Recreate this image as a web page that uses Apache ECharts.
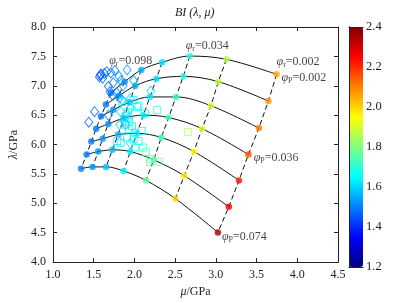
<!DOCTYPE html>
<html><head><meta charset="utf-8">
<script src="https://cdn.jsdelivr.net/npm/echarts@6/dist/echarts.min.js"></script>
<style>html,body{margin:0;padding:0;background:#fff}#c{width:400px;height:303px}</style>
</head><body><div id="c"></div>
<script>
// Grid rows: phi_P from 0.002 (top curve) to 0.074 (bottom curve)
// Grid columns: phi_r from 0.098 (left dashed line) to 0.002 (right dashed line)
const muGrid = [
 [1.71,1.88,2.085,2.34,2.68,3.13,3.746],
 [1.65,1.81,2.01,2.27,2.60,3.03,3.645],
 [1.59,1.74,1.94,2.19,2.51,2.94,3.528],
 [1.53,1.68,1.87,2.11,2.42,2.83,3.40],
 [1.47,1.61,1.80,2.03,2.33,2.73,3.284],
 [1.413,1.555,1.73,1.95,2.236,2.612,3.159],
 [1.344,1.486,1.652,1.867,2.142,2.503,3.025]
];
const lamGrid = [
 [6.88,7.07,7.27,7.40,7.505,7.45,7.195],
 [6.68,6.83,7.00,7.12,7.16,7.07,6.74],
 [6.48,6.59,6.72,6.81,6.81,6.66,6.28],
 [6.27,6.35,6.45,6.50,6.46,6.27,5.83],
 [6.05,6.10,6.17,6.19,6.12,5.88,5.39],
 [5.83,5.88,5.91,5.88,5.74,5.47,4.94],
 [5.59,5.62,5.62,5.55,5.39,5.08,4.505]
];
const biGrid = [
 [1.49,1.52,1.56,1.62,1.70,1.86,2.05],
 [1.49,1.52,1.56,1.62,1.70,1.88,2.07],
 [1.49,1.52,1.56,1.62,1.71,1.90,2.11],
 [1.49,1.52,1.57,1.62,1.72,1.92,2.16],
 [1.49,1.53,1.57,1.63,1.73,1.95,2.22],
 [1.50,1.53,1.57,1.63,1.75,1.97,2.27],
 [1.50,1.53,1.58,1.64,1.77,2.00,2.35]
];
// measured samples: [mu, lambda, BI]
const diamondData = [
 [1.57,7.15,1.46],[1.59,7.20,1.46],[1.61,7.13,1.47],[1.63,7.21,1.47],[1.58,7.18,1.45],
 [1.66,7.24,1.47],[1.71,7.22,1.48],[1.76,7.26,1.50],[1.81,7.16,1.51],[1.91,7.27,1.53],
 [1.835,7.09,1.52],[1.99,7.09,1.55],[1.68,6.99,1.47],[1.70,6.90,1.48],[1.73,6.84,1.49],
 [1.78,6.88,1.50],[1.82,6.80,1.51],[2.20,6.91,1.62],[1.44,6.38,1.46],[1.51,6.56,1.47],
 [1.68,6.50,1.50],[1.83,6.56,1.60],[1.85,6.76,1.58],[1.95,6.78,1.60],[1.95,6.62,1.61],
 [1.82,6.34,1.58],[1.89,6.34,1.60],[1.95,6.02,1.62],[1.93,6.45,1.60],[1.87,6.40,1.59],
 [1.74,7.05,1.49],[1.86,7.00,1.53]
];
const squareData = [
 [1.85,6.73,1.63],[1.99,6.76,1.64],[2.03,6.64,1.64],[2.28,6.59,1.70],[2.13,6.53,1.66],
 [1.89,6.48,1.62],[1.93,6.39,1.63],[1.89,6.34,1.62],[1.97,6.31,1.64],[1.93,6.26,1.63],
 [2.01,6.20,1.65],[2.09,6.23,1.66],[1.79,6.06,1.62],[1.91,6.12,1.63],[1.99,6.09,1.65],
 [2.01,5.95,1.66],[2.11,5.95,1.72],[2.14,5.87,1.74],[2.20,5.75,1.76],[2.30,5.71,1.77],
 [2.19,5.70,1.76],[2.66,6.21,1.86],[2.05,6.66,1.64],[1.83,6.03,1.62],[2.05,6.06,1.66],
 [1.92,6.55,1.63]
];
const annotLabels = [
 ['r','0.098'],['r','0.034'],['r','0.002'],['P','0.002'],['P','0.036'],['P','0.074']
];
const xTicks = {min:1.0, max:4.5, interval:0.5};
const yTicks = {min:4.0, max:8.0, interval:0.5};
const cbTicks = {min:1.2, max:2.4, interval:0.2};

// ---- layout / style ----
const annotAnchor = [[1.69,7.42],[2.63,7.68],[3.745,7.41],[3.805,7.13],[3.465,5.78],[3.075,4.43]];
const SERIF = '"Liberation Serif","Times New Roman",serif';
const jetStops = [[0,0,128],[0,0,255],[0,128,255],[0,255,255],[128,255,128],[255,255,0],[255,128,0],[255,0,0],[128,0,0]];
const jetColors = jetStops.map(c=>'rgb('+c.join(',')+')');
function jet(v){
  let t=(v-cbTicks.min)/(cbTicks.max-cbTicks.min); t=Math.max(0,Math.min(1,t));
  const p=t*(jetStops.length-1); const i=Math.min(Math.floor(p),jetStops.length-2); const f=p-i;
  const a=jetStops[i], b=jetStops[i+1];
  return 'rgb('+a.map((x,k)=>Math.round(x+(b[k]-x)*f)).join(',')+')';
}
const G = {left:50, top:27, width:288, height:240};
const CB = {left:349, top:27, width:14, height:240};

const series = [];
muGrid.forEach((row,i)=>{
  series.push({type:'line', xAxisIndex:0, yAxisIndex:0, smooth:0.35, symbol:'none', silent:true,
    lineStyle:{color:'#111', width:1}, z:2,
    data: row.map((m,j)=>[m, lamGrid[i][j]])});
});
for(let j=0;j<muGrid[0].length;j++){
  series.push({type:'line', xAxisIndex:0, yAxisIndex:0, symbol:'none', silent:true,
    lineStyle:{color:'#111', width:1, type:[5,3]}, z:2,
    data: muGrid.map((row,i)=>[row[j], lamGrid[i][j]])});
}
const dotIdx = series.length;
const dots = [];
muGrid.forEach((row,i)=>row.forEach((m,j)=>dots.push([m, lamGrid[i][j], biGrid[i][j]])));
series.push({type:'scatter', xAxisIndex:0, yAxisIndex:0, symbol:'circle', symbolSize:6.5, z:4, data:dots,
  itemStyle:{borderWidth:0}});
series.push({type:'scatter', xAxisIndex:0, yAxisIndex:0, symbol:'diamond', symbolSize:[8,10], z:5,
  data: diamondData.map(d=>({value:d, itemStyle:{color:'rgba(255,255,255,0)', borderColor:jet(d[2]), borderWidth:1}}))});
series.push({type:'scatter', xAxisIndex:0, yAxisIndex:0, symbol:'rect', symbolSize:7, z:5,
  data: squareData.map(d=>({value:d, itemStyle:{color:'rgba(255,255,255,0)', borderColor:jet(d[2]), borderWidth:1}}))});
series.push({type:'scatter', xAxisIndex:0, yAxisIndex:0, symbolSize:0, silent:true, z:6,
  data: annotLabels.map((a,k)=>({value:annotAnchor[k], sub:a[0], val:a[1]})),
  label:{show:true, position:'right', distance:0,
    formatter:p=>'{i|φ}{s|'+p.data.sub+'}{n|='+p.data.val+'}',
    rich:{
      i:{fontFamily:SERIF, fontStyle:'italic', fontSize:12, color:'#111'},
      s:{fontFamily:SERIF, fontStyle:'normal', fontSize:8, color:'#111', padding:[6,0,0,0]},
      n:{fontFamily:SERIF, fontSize:12, color:'#111'}
    }}});

const axisCommon = {axisLine:{show:true, lineStyle:{color:'#222', width:1}},
  axisTick:{show:true, inside:true, length:4, lineStyle:{color:'#222'}},
  splitLine:{show:false}};
const labelStyle = {fontFamily:SERIF, fontSize:12, color:'#222'};

const option = {
  animation:false,
  backgroundColor:'#fff',
  title:{text:'BI (λ, μ)', left:175, top:7, padding:0,
    textStyle:{fontFamily:SERIF, fontStyle:'italic', fontWeight:'normal', fontSize:12, color:'#222'}},
  grid:[
    {left:G.left, top:G.top, width:G.width, height:G.height},
    {left:CB.left, top:CB.top, width:CB.width, height:CB.height}
  ],
  xAxis:[
    Object.assign({type:'value', gridIndex:0, position:'bottom', min:xTicks.min, max:xTicks.max, interval:xTicks.interval,
      axisLabel:Object.assign({formatter:v=>v.toFixed(1), margin:7}, labelStyle),
      name:'{i|μ}/GPa', nameLocation:'middle', nameGap:22,
      nameTextStyle:{fontFamily:SERIF, fontSize:12, color:'#222', rich:{i:{fontFamily:SERIF, fontStyle:'italic', fontSize:12, color:'#222'}}}}, axisCommon),
    Object.assign({type:'value', gridIndex:0, position:'top', min:xTicks.min, max:xTicks.max, interval:xTicks.interval,
      axisLabel:{show:false}}, axisCommon),
    {type:'value', gridIndex:1, position:'bottom', min:0, max:1, axisLabel:{show:false}, axisTick:{show:false}, splitLine:{show:false}, axisLine:{show:true, lineStyle:{color:'#222'}}, z:10},
    {type:'value', gridIndex:1, position:'top', min:0, max:1, axisLabel:{show:false}, axisTick:{show:false}, splitLine:{show:false}, axisLine:{show:true, lineStyle:{color:'#222'}}, z:10}
  ],
  yAxis:[
    Object.assign({type:'value', gridIndex:0, position:'left', min:yTicks.min, max:yTicks.max, interval:yTicks.interval,
      axisLabel:Object.assign({formatter:v=>v.toFixed(1), margin:7}, labelStyle),
      name:'{i|λ}/GPa', nameLocation:'middle', nameGap:33, nameRotate:90,
      nameTextStyle:{fontFamily:SERIF, fontSize:12, color:'#222', rich:{i:{fontFamily:SERIF, fontStyle:'italic', fontSize:12, color:'#222'}}}}, axisCommon),
    Object.assign({type:'value', gridIndex:0, position:'right', min:yTicks.min, max:yTicks.max, interval:yTicks.interval,
      axisLabel:{show:false}}, axisCommon),
    {type:'value', gridIndex:1, position:'left', min:cbTicks.min, max:cbTicks.max, interval:cbTicks.interval,
      axisLabel:{show:false}, axisTick:{show:false}, splitLine:{show:false}, axisLine:{show:true, lineStyle:{color:'#222'}}, z:10},
    {type:'value', gridIndex:1, position:'right', min:cbTicks.min, max:cbTicks.max, interval:cbTicks.interval,
      axisLabel:Object.assign({formatter:v=>v.toFixed(1), margin:3}, labelStyle, {fontSize:12.5}),
      axisTick:{show:false}, splitLine:{show:false}, axisLine:{show:true, lineStyle:{color:'#222'}}, z:10}
  ],
  visualMap:{type:'continuous', min:cbTicks.min, max:cbTicks.max, dimension:2, seriesIndex:[dotIdx],
    inRange:{color:jetColors}, calculable:false, hoverLink:false, realtime:false,
    left:CB.left, top:CB.top, itemWidth:CB.width, itemHeight:CB.height, padding:0, text:null, showLabel:false},
  series: series
};
const chart = echarts.init(document.getElementById('c'), null, {renderer:'canvas'});
chart.setOption(option);
</script></body></html>
